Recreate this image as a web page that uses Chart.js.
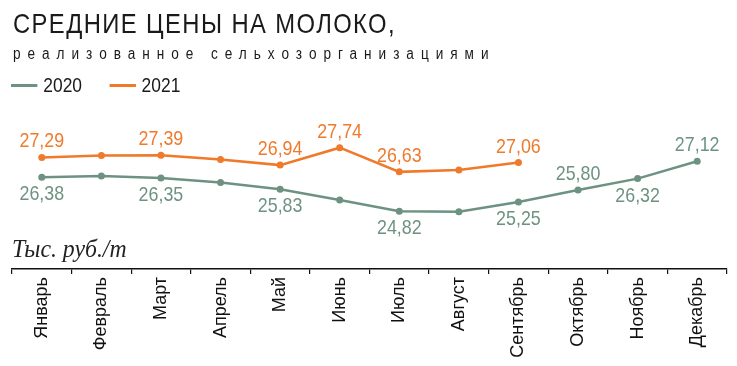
<!DOCTYPE html>
<html>
<head>
<meta charset="utf-8">
<script src="https://cdn.jsdelivr.net/npm/chart.js@4"></script>
<style>
  body { margin: 0; background: #fff; }
  #wrap { position: relative; width: 737px; height: 366px; overflow: hidden; }
  #wrap canvas { position: absolute; left: 0; top: 0; }
  .t { position: absolute; white-space: nowrap; line-height: 1; color: #1a1a1a; transform-origin: 0 0; }
  #title { left: 13px; top: 8px; font: 28px "Liberation Sans", Arial, sans-serif; letter-spacing: 1.65px; transform: scaleX(0.85); }
  #subtitle { left: 13px; top: 45px; font: 16px "Liberation Sans", Arial, sans-serif; letter-spacing: 8.2px; transform: scaleX(0.85); }
  #legend { left: 11px; top: 73px; font: 20.5px "Liberation Sans", Arial, sans-serif; transform: scaleX(0.85); }
  #legend span.item { display: inline-block; margin-right: 32px; }
  #legend span.sw { display: inline-block; width: 31px; height: 3px; vertical-align: 5px; margin-right: 7px; }
  #unit { left: 12px; top: 235px; font: italic 25px "Liberation Serif", "DejaVu Serif", serif; color: #222; transform: scaleX(0.95); }
</style>
</head>
<body>
<div id="wrap">
  <canvas id="milkChart" width="737" height="366"></canvas>
  <div class="t" id="title">СРЕДНИЕ ЦЕНЫ НА МОЛОКО,</div>
  <div class="t" id="subtitle">реализованное сельхозорганизациями</div>
  <div class="t" id="legend"></div>
  <div class="t" id="unit">Тыс. руб./т</div>
</div>
<script>
// Месяцы
const months = ['Январь', 'Февраль', 'Март', 'Апрель', 'Май', 'Июнь',
                'Июль', 'Август', 'Сентябрь', 'Октябрь', 'Ноябрь', 'Декабрь'];

// Цены, тыс. руб./т
const prices2020 = [26.38, 26.44, 26.35, 26.14, 25.83, 25.34, 24.82, 24.80, 25.25, 25.80, 26.32, 27.12];
const prices2021 = [27.29, 27.38, 27.39, 27.20, 26.94, 27.74, 26.63, 26.72, 27.06, null, null, null];

// Где подписывать значения: 'up', 'down' или null
const labels2020 = ['down', null, 'down', null, 'down', null, 'down', null, 'down', 'up', 'down', 'up'];
const labels2021 = ['up', null, 'up', null, 'up', 'up', 'up', null, 'up', null, null, null];

const green = '#6e9281';
const orange = '#ef7a2b';

const series = [
    { name: '2020', data: prices2020, color: green, marks: labels2020 },
    { name: '2021', data: prices2021, color: orange, marks: labels2021 }
];

// легенда
document.getElementById('legend').innerHTML = series.map(s =>
    `<span class="item"><span class="sw" style="background:${s.color}"></span>${s.name}</span>`
).join('');

// подписи значений над/под точками (узкий шрифт через scaleX)
const valueLabels = {
    id: 'valueLabels',
    afterDatasetsDraw(chart) {
        const ctx = chart.ctx;
        chart.data.datasets.forEach((ds, i) => {
            const meta = chart.getDatasetMeta(i);
            meta.data.forEach((pt, j) => {
                const where = ds.marks[j];
                if (!where || ds.data[j] == null) return;
                const txt = ds.data[j].toFixed(2).replace('.', ',');
                const y = where === 'up' ? pt.y - 10 : pt.y + 23;
                ctx.save();
                ctx.font = '21px "Liberation Sans", Arial, sans-serif';
                ctx.textAlign = 'center';
                ctx.textBaseline = 'alphabetic';
                ctx.fillStyle = ds.borderColor;
                ctx.translate(pt.x, y);
                ctx.scale(0.85, 1);
                ctx.fillText(txt, 0, 0);
                ctx.restore();
            });
        });
    }
};

const ctx = document.getElementById('milkChart').getContext('2d');
const milkChart = new Chart(ctx, {
    type: 'line',
    data: {
        labels: months,
        datasets: series.map(s => ({
            label: s.name,
            data: s.data,
            marks: s.marks,
            borderColor: s.color,
            backgroundColor: s.color,
            borderWidth: 2.5,
            pointRadius: 3.5,
            pointBorderWidth: 0,
            tension: 0,
            fill: false
        }))
    },
    options: {
        responsive: false,
        devicePixelRatio: 1,
        animation: false,
        layout: { padding: { top: 100, left: 12, right: 10, bottom: 0 } },
        plugins: {
            legend: { display: false },
            tooltip: { enabled: false }
        },
        scales: {
            y: {
                display: false,
                min: 22.17,
                max: 29.93
            },
            x: {
                offset: true,
                afterFit: (scale) => { scale.height = 97; },
                grid: {
                    offset: true,
                    drawOnChartArea: false,
                    tickLength: 5,
                    color: '#111',
                    lineWidth: 1.2
                },
                border: { display: true, color: '#111', width: 1.5 },
                ticks: {
                    autoSkip: false,
                    minRotation: 90,
                    maxRotation: 90,
                    padding: 3,
                    color: '#111',
                    font: { family: '"Liberation Sans", Arial, sans-serif', size: 18 }
                }
            }
        }
    },
    plugins: [valueLabels]
});
</script>
</body>
</html>
